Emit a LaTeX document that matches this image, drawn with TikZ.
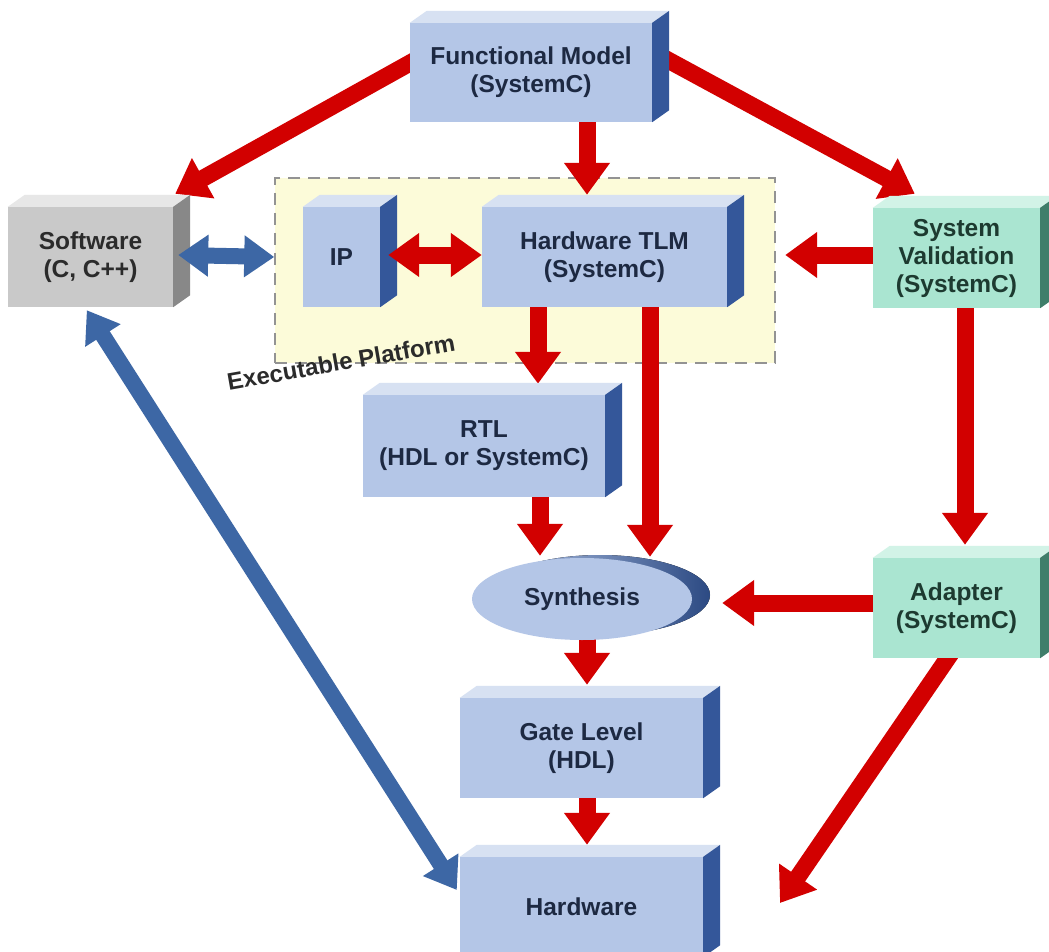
\documentclass[tikz,border=0pt]{standalone}
\usepackage{fontspec}
\setmainfont{Liberation Sans}
\usetikzlibrary{arrows.meta,shapes.geometric,calc}

\definecolor{bluefront}{HTML}{B4C6E7}
\definecolor{bluetop}{HTML}{D7E1F2}
\definecolor{blueside}{HTML}{34579A}
\definecolor{grayfront}{HTML}{C9C9C9}
\definecolor{graytop}{HTML}{E7E7E7}
\definecolor{grayside}{HTML}{888888}
\definecolor{greenfront}{HTML}{AAE5D1}
\definecolor{greentop}{HTML}{D2F3E7}
\definecolor{greenside}{HTML}{3F7E6A}
\definecolor{flowred}{HTML}{D20000}
\definecolor{flowblue}{HTML}{3D67A5}
\definecolor{platfill}{HTML}{FCFBD9}
\definecolor{labeltext}{HTML}{1D2942}
\definecolor{graytext}{HTML}{2B2B2B}
\definecolor{greentext}{HTML}{1D3A30}

\pgfdeclarelayer{plat}
\pgfdeclarelayer{flow}
\pgfdeclarelayer{over}
\pgfsetlayers{plat,flow,main,over}

% top and right faces of a box node
\newcommand\boxfaces[3]{%
  \fill[#2] (#1.north west) -- ++(17,-12) -- ($(#1.north east)+(17,-12)$) -- (#1.north east) -- cycle;
  \fill[#3] (#1.north east) -- ++(17,-12) -- ($(#1.south east)+(17,-12)$) -- (#1.south east) -- cycle;
}

\begin{document}
\begin{tikzpicture}[x=1pt,y=-1pt,
  face/.style={inner sep=0pt, font=\bfseries\fontsize{24.5}{28}\selectfont, align=center},
  bluebox/.style={face, fill=bluefront, text=labeltext},
  graybox/.style={face, fill=grayfront, text=graytext},
  greenbox/.style={face, fill=greenfront, text=greentext},
  redflow/.style={draw=flowred, line width=17pt, -{Triangle[width=44pt,length=32pt]}},
  redboth/.style={draw=flowred, line width=17pt, {Triangle[width=42pt,length=31pt]}-{Triangle[width=42pt,length=31pt]}},
  blueboth/.style={draw=flowblue, line width=16pt, {Triangle[width=40pt,length=30pt]}-{Triangle[width=40pt,length=30pt]}},
]
\useasboundingbox (0,0) rectangle (1049,952);
\clip (0,0) rectangle (1049,952);

% white ground and executable platform area
\begin{pgfonlayer}{plat}
\fill[white] (0,0) rectangle (1049,952);
\node[draw=gray!85, line width=1.5pt, dash pattern=on 12pt off 8pt, fill=platfill,
      minimum width=500pt, minimum height=185pt, inner sep=0pt] (plat) at (525,270.5) {};
\end{pgfonlayer}
\node[font=\bfseries\fontsize{24}{28}\selectfont, text=graytext, rotate=10] (platlabel) at (341,362) {Executable Platform};

% boxes
\node[bluebox, minimum width=242pt, minimum height=99pt] (fm) at (531,72.5) {Functional Model\\(SystemC)};
\boxfaces{fm}{bluetop}{blueside}
\node[graybox, minimum width=165pt, minimum height=100pt] (sw) at (90.5,257) {Software\\(C, C++)};
\boxfaces{sw}{graytop}{grayside}
\node[bluebox, minimum width=77pt, minimum height=100pt] (ip) at (341.5,257) {IP};
\boxfaces{ip}{bluetop}{blueside}
\node[bluebox, minimum width=245pt, minimum height=100pt] (tlm) at (604.5,257) {Hardware TLM\\(SystemC)};
\boxfaces{tlm}{bluetop}{blueside}
\node[greenbox, minimum width=167pt, minimum height=100pt] (sv) at (956.5,258) {System\\Validation\\(SystemC)};
\boxfaces{sv}{greentop}{greenside}
\node[bluebox, minimum width=242pt, minimum height=102pt] (rtl) at (484,446) {RTL\\(HDL or SystemC)};
\boxfaces{rtl}{bluetop}{blueside}
\node[greenbox, minimum width=167pt, minimum height=100pt] (ad) at (956.5,608) {Adapter\\(SystemC)};
\boxfaces{ad}{greentop}{greenside}
\node[bluebox, minimum width=243pt, minimum height=100pt] (gate) at (581.5,748) {Gate Level\\(HDL)};
\boxfaces{gate}{bluetop}{blueside}
\node[bluebox, minimum width=243pt, minimum height=100pt] (hw) at (581.5,907) {Hardware};
\boxfaces{hw}{bluetop}{blueside}

% synthesis ellipse with its shaded rim
\fill[left color=bluefront, right color=blueside!85!black] (600,595) ellipse [x radius=110pt, y radius=40pt];
\node[face, ellipse, fill=bluefront, text=labeltext, minimum width=220pt, minimum height=82pt] (syn) at (582,599) {Synthesis};

% free end of the adapter flow
\coordinate (hwside) at (780,903);

% single flows, passing under the boxes they leave
\begin{pgfonlayer}{flow}
\draw[redflow] ($(fm.west)+(20,-20.5)$) -- ($(sw.north east)+(2,-13)$);
\draw[redflow] ($(fm.south)+(56,-12)$) -- ($(tlm.north)+(-17.5,-12)$);
\draw[redflow] ($(fm.east)+(-12,-27.5)$) -- ($(sv.north west)+(42,-14)$);
\draw[redflow] ($(sv.west)+(17,-3)$) -- ($(tlm.east)+(58,-2)$);
\draw[redflow] ($(tlm.south)+(-66.5,-12)$) -- ($(rtl.north)+(54,-11)$);
\draw[redflow] ($(tlm.south)+(45.5,-12)$) -- ($(syn.north)+(68,-1)$);
\draw[redflow] ($(rtl.south)+(56,-12)$) -- ($(syn.north)+(-42,-2)$);
\draw[redflow] ($(sv.south)+(8.5,-13)$) -- ($(ad.north)+(8.5,-13)$);
\draw[redflow] ($(ad.west)+(17,-5)$) -- ($(syn.east)+(30,4)$);
\draw[redflow] ($(syn.south)+(5,-10)$) -- ($(gate.north)+(5.5,-13)$);
\draw[redflow] ($(gate.south)+(5.5,-12)$) -- ($(hw.north)+(5.5,-12)$);
\draw[redflow] ($(ad.south)+(3.5,-18)$) -- (hwside);
\end{pgfonlayer}

% two-way links
\begin{pgfonlayer}{over}
\draw[redboth] ($(ip.east)+(8,-2)$) -- ($(tlm.west)+(0,-2)$);
\draw[blueboth] ($(sw.east)+(5,-2)$) -- ($(plat.west)+(0,-13.5)$);
\draw[blueboth] ($(hw.west)+(-3,-17)$) -- ($(sw.south west)+(79,3)$);
\end{pgfonlayer}
\end{tikzpicture}
\end{document}
